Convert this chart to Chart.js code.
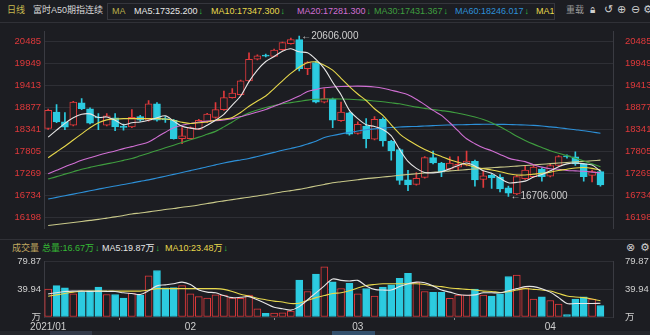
<!DOCTYPE html>
<html lang="zh">
<head>
<meta charset="UTF-8">
<title>富时A50期指连续 日线</title>
<script src="https://cdn.jsdelivr.net/npm/chart.js"></script>
<style>
  body { margin:0; width:650px; height:335px; overflow:hidden; position:relative; background:#1c1d22;
         font-family:"Liberation Sans","Noto Sans CJK SC",sans-serif; font-size:9px; }
  .t { position:absolute; white-space:nowrap; line-height:12px; }
  .dn { color:#2fbf3f; font-weight:bold; margin-left:1px; }
  .hline { position:absolute; left:0; width:650px; height:1px; background:#303137; }
  #maBox { position:absolute; left:107px; top:3px; width:446px; height:15px; border:1px solid #35363d; overflow:hidden; }
  #priceWrap { position:absolute; left:0; top:22px; width:650px; height:216px; }
  #volWrap { position:absolute; left:0; top:252px; width:650px; height:81px; }
  .ico { position:absolute; color:#cfcfcf; font-size:11px; font-family:'DejaVu Sans'; line-height:12px; }
</style>
</head>
<body>
  <span class="t" style="left:7px;top:4px;color:#c6b94e">日线</span>
  <span class="t" style="left:33px;top:4px;color:#d8d8d8">富时A50期指连续</span>
  <div id="maBox">
    <span class="t" style="left:4px;top:1px;color:#b8ae4a">MA</span>
    <span class="t" style="left:26px;top:1px;color:#e6e6e6">MA5:17325.200<span class="dn">↓</span></span>
    <span class="t" style="left:103px;top:1px;color:#e7d84c">MA10:17347.300<span class="dn">↓</span></span>
    <span class="t" style="left:189px;top:1px;color:#d06fd3">MA20:17281.300<span class="dn">↓</span></span>
    <span class="t" style="left:266px;top:1px;color:#3f9d3f">MA30:17431.367<span class="dn">↓</span></span>
    <span class="t" style="left:347px;top:1px;color:#2d90d8">MA60:18246.017<span class="dn">↓</span></span>
    <span class="t" style="left:428px;top:1px;color:#e7d84c">MA120:17590.000</span>
  </div>
  <span class="t" style="left:566px;top:4px;color:#9a9a9a">重载</span>
  <span class="ico" style="left:590px;top:4px;font-size:10px">&#x1F512;&#xFE0E;</span>
  <span class="ico" style="left:604px;top:4px">↺</span>
  <span class="ico" style="left:617px;top:4px">⊕</span>
  <span class="ico" style="left:631px;top:4px">⊖</span>
  <span class="ico" style="left:643px;top:4px">⚙</span>
  <div class="hline" style="top:22px"></div>

  <div id="priceWrap"><canvas id="priceChart" width="650" height="216"></canvas></div>

  <div class="hline" style="top:239px"></div>
  <span class="t" style="left:12px;top:242px;color:#c0a860">成交量</span>
  <span class="t" style="left:42px;top:242px;color:#35b935">总量:16.67万<span class="dn">↓</span></span>
  <span class="t" style="left:102px;top:242px;color:#e6e6e6">MA5:19.87万<span class="dn">↓</span></span>
  <span class="t" style="left:165px;top:242px;color:#e7d84c">MA10:23.48万<span class="dn">↓</span></span>
  <span class="ico" style="left:626px;top:242px">⊗</span>
  <span class="ico" style="left:640px;top:242px">⚙</span>

  <div id="volWrap"><canvas id="volChart" width="650" height="81"></canvas></div>

  <div style="position:absolute;left:0;top:331px;width:650px;height:4px;background:#25262b"></div>
  <div style="position:absolute;left:50px;top:331px;width:42px;height:4px;background:#343a48"></div>
  <div style="position:absolute;left:332px;top:331px;width:43px;height:4px;background:#34506c"></div>

<script>
// daily OHLC, 2021/01 .. 2021/04
const open  = [18360,18760,18520,18440,18985,18840,18640,18440,18620,18410,18400,18650,18560,18960,18600,18560,18110,18110,18340,18520,
               18630,18820,19110,19185,19520,20045,20140,20115,20276,20425,20520,19817,19965,19000,19075,18550,18740,18240,18410,18100,
               18580,18050,17850,17110,17000,17170,17650,17520,17370,17420,17470,17560,17120,17220,17180,16920,16770,17140,17190,17375,
               17200,17460,17690,17670,17500,17220,17310];
const high  = [18830,18940,18750,19020,19090,18860,18720,18720,18720,18470,18820,18680,19040,18990,18650,18580,18380,18400,18580,18730,
               18990,19270,19330,19540,20200,20150,20170,20290,20460,20560,20606,19990,20000,19330,19100,19000,18760,18520,18600,18650,
               18620,18070,17880,17340,17290,17680,17810,17540,17670,17680,17810,17590,17330,17260,17240,16960,17230,17440,17460,17400,
               17500,17700,17720,17790,17510,17350,17330];
const low   = [18340,18500,18330,18420,18820,18470,18330,18420,18310,18320,18380,18540,18540,18540,18510,18100,17990,18100,18330,18500,
               18610,18800,19100,19170,19500,20030,20100,20100,20260,20410,19760,19670,18980,18980,18380,18530,18200,18220,17890,18080,
               17930,17590,17000,16850,16980,17150,17500,17190,17350,17340,17450,16960,16930,16900,16820,16706,16750,17120,17170,17080,
               17180,17440,17640,17460,17080,17060,16960];
const close = [18800,18520,18390,19000,18840,18490,18615,18670,18400,18385,18630,18560,18960,18560,18570,18110,18180,18380,18560,18710,
               18820,19110,19220,19520,20040,20130,20120,20270,20447,20520,19817,19965,19000,19090,18560,18760,18220,18460,18110,18580,
               18060,17815,17100,16985,17150,17650,17520,17300,17520,17490,17570,17110,17210,17160,16890,16785,17190,17350,17420,17190,
               17460,17680,17670,17500,17190,17310,16990];

// moving averages
const ma5   = [18150,18320,18485,18620,18705,18715,18630,18640,18560,18450,18500,18520,18560,18620,18670,18540,18415,18370,18350,18440,
               18560,18705,18930,19150,19500,19780,19990,20110,20240,20300,20225,20200,20040,19815,19485,19180,18800,18600,18450,18410,
               18335,18180,17850,17560,17390,17290,17280,17310,17380,17460,17520,17450,17330,17270,17150,17040,17050,17080,17180,17240,
               17330,17430,17500,17520,17500,17470,17325];
const ma10  = [17650,17790,17930,18080,18230,18380,18500,18570,18590,18600,18600,18600,18600,18600,18590,18560,18510,18480,18500,18520,
               18560,18590,18630,18750,18900,19030,19150,19330,19520,19700,19850,19960,19980,19900,19780,19580,19380,19200,19040,18840,
               18680,18450,18230,18080,17960,17850,17760,17680,17600,17540,17480,17420,17380,17350,17310,17260,17230,17230,17250,17270,
               17300,17340,17370,17400,17410,17390,17347];
const ma20  = [17260,17345,17430,17510,17590,17650,17710,17765,17815,17870,17920,17970,18030,18150,18270,18380,18440,18480,18520,18540,
               18550,18570,18600,18650,18700,18760,18820,18900,18980,19060,19150,19260,19310,19350,19370,19380,19385,19390,19385,19370,
               19340,19290,19240,19180,19070,18940,18800,18680,18500,18300,18110,17990,17890,17820,17730,17640,17590,17555,17480,17420,
               17380,17370,17340,17330,17320,17300,17281];
const ma30  = [17135,17190,17250,17310,17370,17415,17460,17500,17540,17585,17630,17695,17760,17825,17890,17955,18020,18085,18150,18220,
               18290,18400,18520,18640,18740,18810,18870,18920,18960,18990,19020,19050,19070,19078,19080,19078,19070,19060,19050,19030,
               19010,18985,18960,18920,18880,18850,18820,18795,18770,18730,18690,18640,18580,18500,18400,18290,18170,18070,17980,17900,
               17820,17760,17700,17635,17570,17500,17431];
const ma60  = [16644,16685,16725,16765,16805,16845,16885,16925,16960,17000,17035,17075,17110,17155,17200,17245,17290,17335,17380,17430,
               17475,17520,17560,17595,17630,17680,17730,17780,17830,17875,17920,17985,18050,18140,18190,18230,18265,18300,18330,18350,
               18370,18385,18395,18405,18410,18420,18430,18440,18445,18450,18455,18460,18462,18462,18460,18458,18452,18445,18435,18420,
               18400,18380,18355,18330,18305,18275,18246];
const ma120 = [16000,16025,16050,16075,16100,16125,16150,16180,16210,16245,16280,16305,16333,16360,16390,16415,16445,16470,16500,16535,
               16570,16600,16630,16660,16690,16720,16750,16785,16820,16850,16880,16920,16960,17000,17040,17065,17090,17115,17140,17160,
               17180,17200,17222,17240,17260,17280,17295,17310,17330,17345,17360,17375,17390,17405,17420,17430,17445,17460,17475,17490,
               17505,17520,17535,17550,17560,17575,17590];

// volume in 万 lots, with its averages
const volume = [40.3,45.5,42.1,33.4,36.9,37.7,43.4,32.5,32.5,27.3,34.7,31.7,59.5,67.3,42.1,42.5,45.5,33.4,29.5,27.5,
                32.0,31.7,27.3,27.0,31.7,11.7,5.2,5.6,6.1,8.7,53.3,36.9,62.0,72.5,50.7,41.2,48.6,33.4,41.2,30.4,
                43.4,46.4,56.0,63.0,50.0,36.9,35.6,35.6,26.9,31.7,31.7,40.3,31.7,30.4,33.4,58.6,60.8,42.1,26.0,29.1,
                23.9,18.7,3.5,26.0,29.1,26.0,16.67];
const volMa5  = [33.4,35,37,37.5,37.5,37,37.5,37,37,35,34,32.5,38,45,46.5,48,50.5,47,39,36,
                 35,31,28,28.5,29.5,25,19.5,14,12,10,15,25,35,45,55,53,52,53,45,40,
                 39,39,44,48,50.5,49.5,45,39,36,32.5,31.5,32,35,35,35,38,41,44,44,41,
                 36,28,19.5,19.5,19.5,19.5,19.87];
const volMa10 = [30,32,34,36,37.5,37.5,37.5,37.5,37.5,37.5,37.5,37.5,39,41,41,41,41,41,41,41,
                 41,40,37,33,30.4,27,25,23,21.7,19.5,20,24,28,31,34,35,38,42,45.5,47,
                 48,48,48,48,48,47,45,44,42,41,40,39,37.5,37,35.5,36.5,39,41,40,39,
                 37.5,34,30.4,29,28,26,23.48];

const priceTicks = [16198,16734,17269,17805,18341,18877,19413,19949,20485];
const volTicks = [0,39.94,79.87];
const monthStarts = [0,17,37,60];
const monthLabels = ['2021/01','02','03','04'];

const BG = '#1c1d22', RED = '#e0393b', CYAN = '#2ccbe0', GRID = '#2e2f35', AXIS = '#3a3b42';
Chart.defaults.font.family = '"Liberation Sans","Noto Sans CJK SC",sans-serif';

const labels = open.map((_, i) => i);
labels.push(open.length); // spare slot at the right edge
const up = open.map((o, i) => close[i] >= o);
const upFill = up.map(u => u ? BG : CYAN);
const upLine = up.map(u => u ? RED : CYAN);

function maLine(data, color) {
  return { type: 'line', data, borderColor: color, borderWidth: 1.1, pointRadius: 0, tension: 0.3, fill: false };
}

const fixedWidth = w => s => { s.width = w; };
const plain = v => String(v);

// high / low labels
let hiIdx = 0, loIdx = 0;
high.forEach((h, i) => { if (h > high[hiIdx]) hiIdx = i; });
low.forEach((l, i) => { if (l < low[loIdx]) loIdx = i; });
const extremes = {
  id: 'extremes',
  afterDatasetsDraw(chart) {
    const { ctx, scales: { x, y } } = chart;
    ctx.save();
    ctx.font = '10px "Liberation Sans",sans-serif';
    ctx.fillStyle = '#cfcfcf';
    ctx.textBaseline = 'middle';
    [[hiIdx, high[hiIdx]], [loIdx, low[loIdx]]].forEach(([i, v]) => {
      ctx.fillText('←' + v.toFixed(3), x.getPixelForValue(i) + 2, y.getPixelForValue(v));
    });
    ctx.restore();
  }
};

new Chart(document.getElementById('priceChart'), {
  type: 'bar',
  data: {
    labels,
    datasets: [
      maLine(ma5, '#e6e6e6'),
      maLine(ma10, '#e7d84c'),
      maLine(ma20, '#d06fd3'),
      maLine(ma30, '#3f9d3f'),
      maLine(ma60, '#2d90d8'),
      maLine(ma120, '#c9c98a'),
      { data: open.map((o, i) => [o, close[i]]), backgroundColor: upFill, borderColor: upLine,
        borderWidth: 1, borderSkipped: false, barThickness: 7, grouped: false, minBarLength: 1 },
      { data: low.map((l, i) => [l, high[i]]), backgroundColor: upLine, barThickness: 1, grouped: false }
    ]
  },
  options: {
    responsive: false, animation: false,
    layout: { padding: { top: 1 } },
    plugins: { legend: { display: false }, tooltip: { enabled: false } },
    scales: {
      x: { display: false, offset: true },
      y: {
        position: 'left', min: 15933, max: 20714,
        afterBuildTicks: s => { s.ticks = priceTicks.map(v => ({ value: v })); },
        afterFit: fixedWidth(44),
        ticks: { color: RED, font: { size: 9.5 }, padding: 3, callback: plain },
        grid: { color: GRID, drawTicks: false },
        border: { color: AXIS }
      },
      y2: {
        position: 'right', min: 15933, max: 20714,
        afterBuildTicks: s => { s.ticks = priceTicks.map(v => ({ value: v })); },
        afterFit: fixedWidth(37),
        ticks: { color: RED, font: { size: 9.5 }, padding: 4, callback: plain },
        grid: { display: false },
        border: { color: AXIS }
      }
    }
  },
  plugins: [extremes]
});

const volTickLabel = v => v === 0 ? '万' : v.toFixed(2);
new Chart(document.getElementById('volChart'), {
  type: 'bar',
  data: {
    labels,
    datasets: [
      maLine(volMa5, '#e6e6e6'),
      maLine(volMa10, '#e7d84c'),
      { data: volume, backgroundColor: upFill, borderColor: upLine, borderWidth: 1,
        borderSkipped: false, barThickness: 7 }
    ]
  },
  options: {
    responsive: false, animation: false,
    layout: { padding: { top: 3 } },
    plugins: { legend: { display: false }, tooltip: { enabled: false } },
    scales: {
      x: {
        offset: true,
        afterFit: s => { s.height = 16; },
        grid: { drawOnChartArea: false, tickLength: 3, color: '#8a8a8a' },
        border: { display: false },
        ticks: {
          autoSkip: false, maxRotation: 0, color: '#cfcfcf', font: { size: 10 }, padding: 1,
          callback: (v, i) => monthStarts.includes(i) ? monthLabels[monthStarts.indexOf(i)] : null
        }
      },
      y: {
        position: 'left', min: 0, max: 80,
        afterBuildTicks: s => { s.ticks = volTicks.map(v => ({ value: v })); },
        afterFit: fixedWidth(44),
        ticks: { color: '#cfcfcf', font: { size: 9.5 }, padding: 3, callback: volTickLabel },
        grid: { color: GRID, drawTicks: false },
        border: { color: AXIS }
      },
      y2: {
        position: 'right', min: 0, max: 80,
        afterBuildTicks: s => { s.ticks = volTicks.map(v => ({ value: v })); },
        afterFit: fixedWidth(37),
        ticks: { color: '#cfcfcf', font: { size: 9.5 }, padding: 4, callback: volTickLabel },
        grid: { display: false },
        border: { color: AXIS }
      }
    }
  }
});
</script>
</body>
</html>
